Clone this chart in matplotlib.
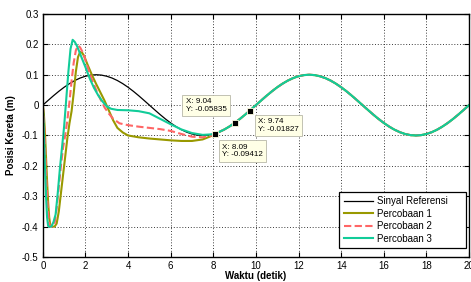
import numpy as np
import matplotlib
matplotlib.use('Agg')
import matplotlib.pyplot as plt

plt.rcParams['font.family'] = ['Liberation Sans', 'DejaVu Sans']
plt.rcParams['axes.unicode_minus'] = False

# sinyal referensi (tiap 0.25 detik)
ref_t = np.arange(0, 20.001, 0.25)
ref_y = [0, 0.0156, 0.0309, 0.0454, 0.0588, 0.0707, 0.0809, 0.0891, 0.0951, 0.0988,
         0.1, 0.0988, 0.0951, 0.0891, 0.0809, 0.0707, 0.0588, 0.0454, 0.0309, 0.0156,
         0, -0.0156, -0.0309, -0.0454, -0.0588, -0.0707, -0.0809, -0.0891, -0.0951, -0.0988,
         -0.1, -0.0988, -0.0951, -0.0891, -0.0809, -0.0707, -0.0588, -0.0454, -0.0309, -0.0156,
         0, 0.0156, 0.0309, 0.0454, 0.0588, 0.0707, 0.0809, 0.0891, 0.0951, 0.0988,
         0.1, 0.0988, 0.0951, 0.0891, 0.0809, 0.0707, 0.0588, 0.0454, 0.0309, 0.0156,
         0, -0.0156, -0.0309, -0.0454, -0.0588, -0.0707, -0.0809, -0.0891, -0.0951, -0.0988,
         -0.1, -0.0988, -0.0951, -0.0891, -0.0809, -0.0707, -0.0588, -0.0454, -0.0309, -0.0156,
         0]

# percobaan 1 (0 - 8 detik, setelah itu mengikuti referensi)
p1_t = [0, 0.05, 0.1, 0.15, 0.2, 0.25, 0.3, 0.35, 0.45, 0.55, 0.65, 0.75, 0.85, 0.95,
        1.05, 1.15, 1.25, 1.35, 1.45, 1.55, 1.65, 1.75, 1.85, 1.95, 2.1, 2.3, 2.5, 2.7,
        2.9, 3.1, 3.3, 3.5, 3.75, 4.0, 4.5, 5.0, 5.5, 6.0, 6.5, 7.0, 7.5, 8.0]
p1_y = [0, -0.03, -0.09, -0.17, -0.25, -0.32, -0.37, -0.395, -0.4, -0.4, -0.39, -0.35,
        -0.29, -0.23, -0.17, -0.11, -0.06, -0.02, 0.04, 0.11, 0.158, 0.175, 0.172, 0.16,
        0.133, 0.1, 0.07, 0.042, 0.014, -0.018, -0.05, -0.075, -0.09, -0.1, -0.106, -0.11,
        -0.113, -0.116, -0.118, -0.118, -0.113, -0.099]

# percobaan 2
p2_t = [0, 0.05, 0.1, 0.15, 0.2, 0.25, 0.3, 0.35, 0.45, 0.55, 0.65, 0.75, 0.85, 0.95,
        1.05, 1.15, 1.25, 1.35, 1.45, 1.55, 1.65, 1.75, 1.9, 2.1, 2.3, 2.5, 2.7, 2.9,
        3.1, 3.3, 3.6, 4.0, 4.5, 5.0, 5.5, 6.0, 6.5, 7.0, 7.5, 8.0]
p2_y = [0, -0.05, -0.13, -0.22, -0.3, -0.36, -0.39, -0.4, -0.4, -0.39, -0.34, -0.27,
        -0.2, -0.14, -0.1, -0.05, 0.01, 0.08, 0.14, 0.18, 0.196, 0.19, 0.17, 0.125,
        0.085, 0.05, 0.02, -0.008, -0.028, -0.045, -0.06, -0.066, -0.071, -0.075, -0.079,
        -0.085, -0.095, -0.104, -0.106, -0.099]

# percobaan 3
p3_t = [0, 0.05, 0.1, 0.15, 0.2, 0.25, 0.3, 0.4, 0.5, 0.6, 0.7, 0.8, 0.9, 1.0, 1.1,
        1.2, 1.3, 1.4, 1.5, 1.6, 1.7, 1.8, 2.0, 2.2, 2.4, 2.6, 2.8, 3.0, 3.2, 3.5, 4.0,
        4.5, 5.0, 5.5, 6.0, 6.5, 7.0, 7.5, 8.0]
p3_y = [0, -0.09, -0.2, -0.3, -0.37, -0.398, -0.4, -0.4, -0.385, -0.36, -0.29, -0.21,
        -0.14, -0.07, 0.02, 0.11, 0.185, 0.215, 0.208, 0.195, 0.178, 0.16, 0.125, 0.088,
        0.057, 0.032, 0.012, -0.004, -0.012, -0.016, -0.017, -0.02, -0.027, -0.045,
        -0.063, -0.08, -0.092, -0.098, -0.096]

# data tip
tip_x = [9.04, 8.09, 9.74]
tip_y = [-0.05835, -0.09412, -0.01827]

ref_t = np.array(ref_t)
ref_y = np.array(ref_y)
tail = ref_t > 8


def gabung(t, y):
    return np.concatenate([t, ref_t[tail]]), np.concatenate([y, ref_y[tail]])


fig = plt.figure(figsize=(4.71, 2.82), dpi=100)
ax = fig.add_axes([0.0909, 0.0887, 0.905, 0.8617])

ax.plot(ref_t, ref_y, color='black', lw=0.9, label='Sinyal Referensi     ')
t, y = gabung(p1_t, p1_y)
ax.plot(t, y, color='#999900', lw=1.5, label='Percobaan 1')
t, y = gabung(p2_t, p2_y)
ax.plot(t, y, color='#ff6666', lw=1.5, dashes=(3.5, 1.6), label='Percobaan 2')
t, y = gabung(p3_t, p3_y)
ax.plot(t, y, color='#11cc99', lw=1.5, label='Percobaan 3')

ax.plot(tip_x, tip_y, 's', color='black', ms=4.5, mec='#ffffe0', mew=0.6, zorder=5)

# kotak data tip
kotak = dict(boxstyle='square,pad=0.4', fc='#ffffe6', ec='#b8b8a8', lw=0.6)
offsets = [(-9, 10), (7, -10), (7.5, -7.5)]
align = [('right', 'bottom'), ('left', 'top'), ('left', 'top')]
for x, yy, off, (ha, va) in zip(tip_x, tip_y, offsets, align):
    ax.annotate('X: %.2f\nY: %.4g' % (x, yy), (x, yy), xytext=off,
                textcoords='offset pixels', ha=ha, va=va, multialignment='left',
                fontsize=5.8, bbox=kotak, zorder=6, linespacing=1.15)

ax.set_xlim(0, 20)
ax.set_ylim(-0.5, 0.3)
ax.set_xticks(np.arange(0, 21, 2))
ax.set_yticks(np.arange(-0.5, 0.31, 0.1))
ax.set_yticklabels(['-0.5', '-0.4', '-0.3', '-0.2', '-0.1', '0', '0.1', '0.2', '0.3'])
ax.tick_params(direction='in', top=True, right=True, length=3.5, width=0.8,
               labelsize=7, pad=3)
for s in ax.spines.values():
    s.set_linewidth(1.0)
ax.grid(True, color='#222222', lw=0.6, linestyle=(0, (1.2, 2.2)))

ax.set_xlabel('Waktu (detik)', fontsize=7, fontweight='bold', labelpad=0)
ax.set_ylabel('Posisi Kereta (m)', fontsize=7, fontweight='bold')
ax.yaxis.set_label_coords(-0.062, 0.5)

leg = ax.legend(loc='lower right', bbox_to_anchor=(0.993, 0.037), fontsize=7,
                handlelength=3.0, handletextpad=0.45, labelspacing=0.25,
                borderpad=0.45, borderaxespad=0, fancybox=False, framealpha=1,
                edgecolor='black')
leg.get_frame().set_linewidth(0.9)

fig.savefig('out.png', dpi=100)
